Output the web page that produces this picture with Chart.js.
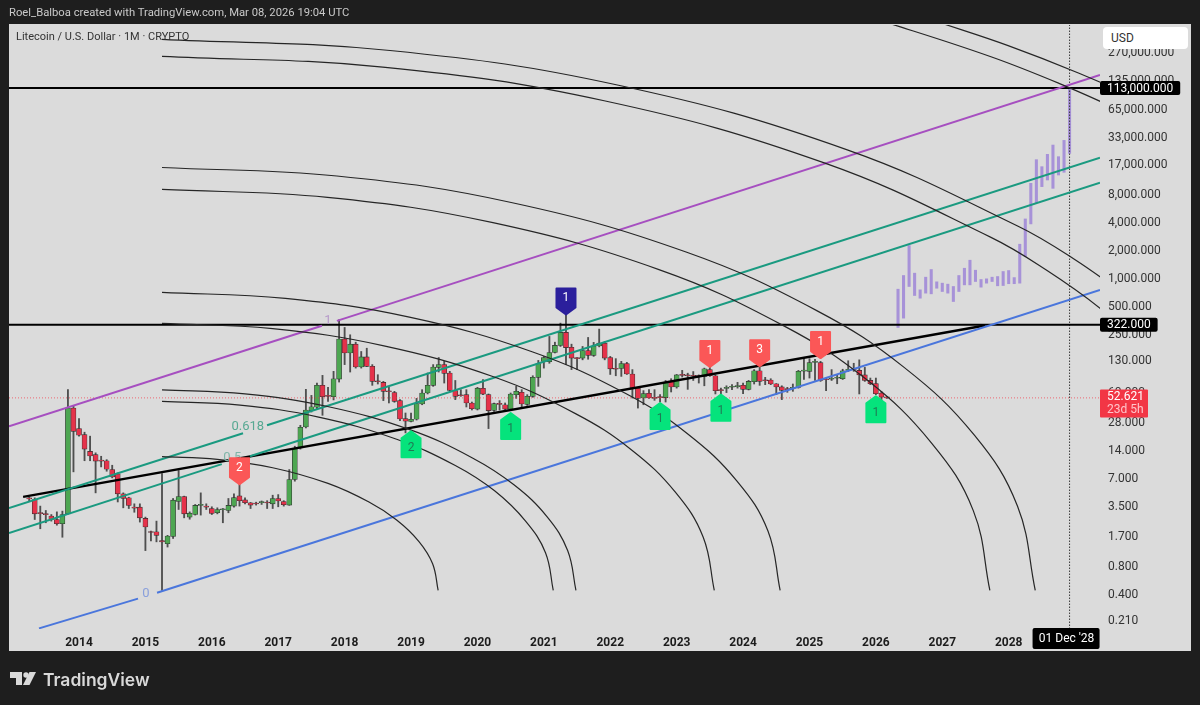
<!DOCTYPE html>
<html>
<head>
<meta charset="utf-8">
<title>Litecoin / U.S. Dollar</title>
<script src="https://cdn.jsdelivr.net/npm/chart.js@4"></script>
<style>
  html, body { margin: 0; padding: 0; background: #1e1e1e; }
  #wrap { position: relative; width: 1200px; height: 705px; overflow: hidden; }
  #chart { position: absolute; left: 0; top: 0; }
  .txt { position: absolute; white-space: nowrap; font-family: Roboto, sans-serif; }
  #credit { left: 9px; top: 6px; font-size: 11.25px; color: #c9c9c9; }
  #symbol { left: 16px; top: 30px; font-size: 11px; color: #333; }
  #currency { left: 1103px; top: 27px; width: 77px; height: 22px; line-height: 22px; padding-left: 8px; background: #fff; border-radius: 4px; font-size: 12px; color: #333; }
  #brand { left: 43px; top: 669px; font-family: Inter, sans-serif; font-size: 17.5px; font-weight: 600; color: #d9d9d9; }
  #logo { position: absolute; left: 10px; top: 671px; }
</style>
</head>
<body>
<div id="wrap">
  <canvas id="chart" width="1200" height="705"></canvas>
  <div class="txt" id="credit">Roel_Balboa created with TradingView.com, Mar 08, 2026 19:04 UTC</div>
  <div class="txt" id="symbol">Litecoin / U.S. Dollar · 1M · CRYPTO</div>
  <div class="txt" id="currency">USD</div>
  <svg id="logo" width="26" height="16" viewBox="0 0 26 16">
    <path d="M0 1h12v13H6V7H0z" fill="#d9d9d9"/>
    <circle cx="16" cy="4" r="2.7" fill="#d9d9d9"/>
    <path d="M19.5 1H26l-6.5 13H13z" fill="#d9d9d9"/>
  </svg>
  <div class="txt" id="brand">TradingView</div>
</div>
<script>
// monthly candles, first one is Apr 2013, month 0 = Jan 2014
const firstMonth = -9;
const opens = [
  4.36,4.25,3.02,2.95,2.82,2.59,2.33,2.98,40.9,
  24.6,21.2,14,12.9,11.2,11.1,8.92,8.02,4.89,4.43,3.49,3.52,
  2.66,1.91,1.91,1.54,1.42,1.7,4.05,4.58,2.75,2.93,3.68,3.58,
  3.4,3.06,3.3,3.24,3.61,4.65,4.21,3.92,3.84,3.93,3.94,3.82,
  4.36,4.05,3.7,6.97,15.2,25.6,38.4,41.7,71.8,55.6,54.2,83.9,
  226,160,199,113,145,115,80,77.3,62.5,60,49.2,31.5,29.3,31,
  45.2,59.4,71.8,112,120,97.4,62.9,56.6,57,46.4,39.9,66.7,57,
  38.7,45.6,44.4,39.9,57,60.4,44.8,54.7,87.5,130,129,162,193,
  266,184,141,141,170,151,190,204,143,109,109,123,95,67,52.5,
  58.9,53,53.8,53,78.6,69,94,92.5,91.5,90,89.6,106,91,63.8,
  66.5,68.5,69.5,71.8,65,78.6,103,81.5,82,74.7,69,65.3,66.5,
  68.3,102,101.5,127,126,83.5,83.5,85.5,84.6,104,106.5,104,93,
  81.2,75,59.4,53.3
];
const highs = [
  4.5,4.43,3.61,3.24,2.93,3.13,3.19,64.5,42.7,
  31.5,22.5,20.4,13.5,12.4,11.4,9.93,8.22,5.01,4.5,3.82,3.82,
  2.75,1.94,2.49,8.08,1.75,4.36,8.71,4.62,3.13,3.76,5.01,3.82,
  3.55,3.46,3.4,4.36,4.89,6.42,4.43,3.95,3.98,4.1,4.13,4.73,
  4.8,4.13,8.92,15.9,26.7,65,56,76,91.9,68.3,101.5,364,
  301,251,209,166,180,120,93.4,79.2,68.3,61.9,50.4,36.2,36.2,52,
  64.5,97.4,120,143,130,101.5,81,64.5,64.5,47.5,68.3,83,58,
  46.4,49.2,46.4,59.4,70,64.5,57,91,133,147,241,209,335,
  412,199,143,188,235,208,289,213,147,139,130,127,106,68.3,63,
  64.5,64.5,57,81,84.6,94,104,97,101,93,110,135,93,67,
  71,73,77.3,76,81.2,106,115,87.5,84.6,75,71,68.3,74.2,
  104,143,139,137,130,86,106,93,107,132,124,135,112,
  86,86,61.9,54.2
];
const lows = [
  4.08,2.59,2.06,2.39,2.49,2.25,1.67,2.95,8.43,
  20.4,11.1,11.1,5.01,9.53,8.56,7.26,4,3.46,3.4,3.1,2.43,
  1.2,1.52,1.49,0.448,1.31,1.62,3.32,2.7,2.61,2.89,2.89,3.32,
  2.93,2.98,2.39,3.06,3.52,3.61,3.82,3.4,3.7,3.76,3.4,3.4,
  3.55,3.61,3.68,6.69,14.8,25,37.1,40.3,34.2,48.3,50,77.9,
  120,99.8,110,110,114,71.8,74.2,49.2,46.4,47.2,30,22.1,29,30.4,
  44.4,58,70,99.8,76,61.9,50.4,54.7,42,39,39,57,24.6,
  37.7,39,39,39,52,40.3,43.7,53.4,70,110,124,160,188,
  120,106,106,135,137,147,186,135,94,91,89.6,94,52.4,40.9,44.4,
  52,49.5,47.5,47.5,60.9,67,88.2,65,81,76,71,89.6,58,58,
  60,64.5,67,58.4,64,74.2,71.8,73,73,57,50.4,60.4,61.9,
  67,83,86,81,79.2,62.9,81,74.7,83,101.5,101.5,58,79.2,
  73,57,45.2,52
];
const closes = [
  4.32,2.98,3,2.92,2.59,2.33,2.93,40.9,23,
  20.9,14.8,12.5,11,11,9,7.44,4.89,4.36,3.67,3.44,2.7,
  2.15,1.88,1.75,1.49,1.72,4.18,4.58,2.98,3.03,3.67,3.72,3.52,
  3.01,3.32,3.34,3.67,4.45,4.13,3.92,3.7,3.8,3.97,3.9,4.36,
  4.1,3.73,6.97,15.2,25.4,39,42.3,71.8,54.2,54.6,84.6,226,
  160,199,113,145,115,79.2,78.5,61.9,61.3,48.3,31.2,29.5,31,45.6,
  59.4,71.8,113,120,96.6,63.4,54.7,55.5,46.4,40.3,67,57.8,38.4,
  45.6,44.8,39.9,58,61.9,45.2,54.7,87.5,123,143,162,193,266,
  183,141,139,170,151,190,204,141,108,107,123,95,67,52,58.4,
  52.5,52,53,77.9,68.9,93,92,91,90,89,108,91,62.9,63,
  67.5,69.5,70.5,65,79.2,103,79.2,80.5,74.2,69,63.4,64.5,67.5,
  101.5,104,126,129,81,82.5,84.5,86.5,103,106,105.5,93,81,
  74.7,58.4,53.7,52.621
];

// projected (pasted) price bars, purple, 2026-05 to 2028-12
const projFirstMonth = 148;
const projHighs = [776,1089,2286,1154,764,1045,1263,931,901,879,830,1089,1304,1590,1242,987,1003,1045,1062,1202,1232,1035,2363,4419,10680,19170,16120,21870,27530,20650,30890,113000];
const projLows = [301,379,830,664,621,704,692,795,733,704,572,733,864,864,939,816,901,939,844,850,889,889,901,1742,3908,6618,9835,11590,9427,13120,14020,22410];

// axes
const priceTicks = [270000,135000,65000,33000,17000,8000,4000,2000,1000,500,250,130,60,28,14,7,3.5,1.7,0.8,0.4,0.21];
const yearTicks = [0,12,24,36,48,60,72,84,96,108,120,132,144,156,168];
const yearLabels = ["2014","2015","2016","2017","2018","2019","2020","2021","2022","2023","2024","2025","2026","2027","2028"];

// fib channel lines, split around the level captions
const fibOneX = [-12.65,43.9], fibOneY = [26.06,314];
const fibOnebX = [46.6,184.5], fibOnebY = [354.5,156000];
const fib618X = [-12.65,29.64], fib618Y = [3.43,21.9];
const fib618bX = [33.98,184.5], fib618bY = [26.7,20140];
const fib5X = [-12.65,25.8], fib5Y = [1.85,10.2];
const fib5bX = [30.9,184.5], fib5bY = [12.4,10840];
const fibZeroX = [-7.23,10.66], fibZeroY = [0.175,0.365];
const fibZerobX = [14.1,184.5], fibZerobY = [0.423,760];
const trendX = [-10.1,163.7], trendY = [4.54,316];
const levels = [113000,322];
const lastPrice = 52.621;
const lastCountdown = "23d 5h";
const crossMonth = 179;
const crossLabel = "01 Dec '28";

// speed arcs: [months], [prices]
const arcs = [
  [[15,25,35,45,52.4,57.4,61.4,63.9,64.9],[12.27,11.5,9.33,6.33,3.99,2.56,1.51,0.866,0.448]],
  [[15,29.1,43.3,57.4,68,75.1,80.7,84.3,85.7],[48.3,44,32.7,18.9,9.87,5.27,2.49,1.14,0.448]],
  [[15,30,44.9,59.9,71.1,78.6,84.6,88.3,89.8],[64.1,58.1,42.5,23.8,11.9,6.12,2.77,1.2,0.448]],
  [[15,35,54.9,74.9,89.8,99.8,107.8,112.8,114.8],[333,292,192,88.7,35.4,14.6,5.07,1.67,0.448]],
  [[15,37.3,59.7,82,98.8,109.9,118.9,124.5,126.7],[716,618,388,164,58.7,21.8,6.71,1.95,0.448]],
  [[15,44.9,74.8,104.8,127.2,142.2,154.1,161.6,164.6],[9183,7534,4027,1262,317,83.8,17.1,3.23,0.448]],
  [[15,46.6,78.1,109.7,133.4,149.1,161.8,169.6,172.8],[15800,12800,6640,1950,454,112,20.9,3.6,0.448]],
  [[15,54.9,94.9,134.8,164.8,174.8,184.7,194.7],[247000,190000,82400,17600,2800,1247,475,143]],
  [[15,56.2,97.5,138.7,169.7,180,190.3],[377000,286000,121000,24600,3690,1607,593]],
  [[139.8,147,164.8,177.2,189.7],[728000,546000,245000,126000,59200]],
  [[155.1,167.9,180.6,193.4],[583000,323000,164000,75900]]
];

// signal pins: tip sits on the candle
const pinMonths = [29,88,60,78,105,116,144,114,123,134];
const pinPrices = [6.21,415,23,36.2,46.4,57,54.7,113,115,141];
const pinTexts = ["2","1","2","1","1","1","1","1","3","1"];
const pinKinds = ["sell","top","buy","buy","buy","buy","buy","sell","sell","sell"];

// level captions on the fib channel
const fibTexts = ["1","0.618","0.5","0"];
const fibTextMonths = [45,30.5,27.7,12.1];
const fibTextPrices = [354,26,12,0.41];
const fibTextColors = ["#b79ac9","#57a892","#7fb5a8","#8aa0dc"];

const GREEN = "#4da651", RED = "#e5324a", WICK = "#4f4f4f", EDGE = "#2f2f2f";
const FONT = "Roboto, sans-serif";

const points = (xs, ys) => xs.map((x, i) => ({ x, y: ys[i] }));
const fmtPrice = (v) => Number(v).toLocaleString("en-US", { minimumFractionDigits: 3, maximumFractionDigits: 3 });

function lineSet(xs, ys, color, width, extra = {}) {
  return Object.assign({
    type: "line", data: points(xs, ys), borderColor: color, borderWidth: width,
    pointRadius: 0, fill: false, order: 1,
  }, extra);
}

function roundedRect(ctx, x, y, w, h, r, color) {
  ctx.fillStyle = color;
  ctx.beginPath();
  ctx.roundRect(x, y, w, h, r);
  ctx.fill();
}

const panel = {
  id: "panel",
  beforeDraw(chart) {
    const ctx = chart.ctx;
    ctx.fillStyle = "#dbdbdb";
    ctx.fillRect(9, 24, 1182, 627);
  },
};

const overlay = {
  id: "overlay",
  afterDatasetsDraw(chart) {
    const { ctx, scales: { x, y } } = chart;
    ctx.save();
    ctx.textAlign = "center";
    ctx.textBaseline = "middle";

    fibTexts.forEach((t, i) => {
      ctx.font = `13px ${FONT}`;
      ctx.fillStyle = fibTextColors[i];
      ctx.fillText(t, x.getPixelForValue(fibTextMonths[i]), y.getPixelForValue(fibTextPrices[i]));
    });

    pinMonths.forEach((m, i) => {
      const px = x.getPixelForValue(m);
      const tip = y.getPixelForValue(pinPrices[i]);
      const kind = pinKinds[i];
      const up = kind === "buy";
      const color = kind === "buy" ? "#05e37c" : kind === "top" ? "#2b1f9c" : "#fb5757";
      const dir = up ? 1 : -1;
      const w = 19, neck = 7, body = 19;
      ctx.fillStyle = color;
      ctx.beginPath();
      ctx.moveTo(px, tip);
      ctx.lineTo(px + w / 2, tip + dir * neck);
      ctx.lineTo(px + w / 2, tip + dir * (neck + body));
      ctx.lineTo(px - w / 2, tip + dir * (neck + body));
      ctx.lineTo(px - w / 2, tip + dir * neck);
      ctx.closePath();
      ctx.lineJoin = "round";
      ctx.lineWidth = 2;
      ctx.strokeStyle = color;
      ctx.stroke();
      ctx.fill();
      ctx.font = `12px ${FONT}`;
      ctx.fillStyle = up ? "#1f7a55" : "#ffffff";
      ctx.fillText(pinTexts[i], px, tip + dir * (neck + body / 2));
    });
    ctx.restore();
  },
  afterDraw(chart) {
    const { ctx, scales: { x, y } } = chart;
    ctx.save();
    ctx.textBaseline = "middle";
    ctx.font = `12px ${FONT}`;

    levels.forEach((v) => {
      const py = y.getPixelForValue(v);
      const label = fmtPrice(v);
      const w = ctx.measureText(label).width + 14;
      roundedRect(ctx, 1100, py - 7, w, 14, 2, "#000000");
      ctx.fillStyle = "#ffffff";
      ctx.textAlign = "left";
      ctx.fillText(label, 1107, py + 0.5);
    });

    const ly = y.getPixelForValue(lastPrice);
    roundedRect(ctx, 1100, ly - 8.5, 48, 28, 1, "#f23645");
    ctx.fillStyle = "#ffffff";
    ctx.fillText(fmtPrice(lastPrice), 1107, ly - 1);
    ctx.fillStyle = "#ffc4ca";
    ctx.fillText(lastCountdown, 1107, ly + 12);

    const cx = x.getPixelForValue(crossMonth);
    roundedRect(ctx, cx - 37, 628, 67, 21, 2, "#000000");
    ctx.fillStyle = "#ffffff";
    ctx.textAlign = "center";
    ctx.fillText(crossLabel, cx - 3, 639);
    ctx.restore();
  },
};

const datasets = [
  { label: "wicks", type: "bar", data: lows.map((l, i) => ({ x: firstMonth + i, y: [l, highs[i]] })),
    backgroundColor: WICK, barThickness: 1.2, order: 4, grouped: false },
  { label: "bodies", type: "bar", data: opens.map((o, i) => ({ x: firstMonth + i, y: [o, closes[i]] })),
    backgroundColor: opens.map((o, i) => (closes[i] >= o ? GREEN : RED)),
    borderColor: EDGE, borderWidth: 0.6, borderSkipped: false, barThickness: 5, minBarLength: 1, order: 3, grouped: false },
  { label: "projection", type: "bar", data: projHighs.map((h, i) => ({ x: projFirstMonth + i, y: [projLows[i], h] })),
    backgroundColor: "#a792d8", barThickness: 2.4, order: 2, grouped: false },
];

arcs.forEach(([xs, ys]) => {
  datasets.push(lineSet(xs, ys, "#262626", 1.2, { tension: 0.4 }));
});

datasets.push(lineSet(fibOneX, fibOneY, "#a64fc0", 2));
datasets.push(lineSet(fibOnebX, fibOnebY, "#a64fc0", 2));
datasets.push(lineSet(fib618X, fib618Y, "#1a9a80", 2));
datasets.push(lineSet(fib618bX, fib618bY, "#1a9a80", 2));
datasets.push(lineSet(fib5X, fib5Y, "#1a9a80", 2));
datasets.push(lineSet(fib5bX, fib5bY, "#1a9a80", 2));
datasets.push(lineSet(fibZeroX, fibZeroY, "#4a76dc", 2));
datasets.push(lineSet(fibZerobX, fibZerobY, "#4a76dc", 2));
datasets.push(lineSet(trendX, trendY, "#000000", 2.4));
levels.forEach((v) => datasets.push(lineSet([-12.65, 184.5], [v, v], "#000000", 2)));
datasets.push(lineSet([-12.65, 184.5], [lastPrice, lastPrice], "rgba(242,54,69,0.7)", 1, { borderDash: [1, 2] }));
datasets.push(lineSet([crossMonth, crossMonth], [0.1722, 538000], "#3a3a3a", 1, { borderDash: [1.5, 1.5] }));

new Chart(document.getElementById("chart"), {
  type: "bar",
  data: { datasets },
  plugins: [panel, overlay],
  options: {
    responsive: false,
    animation: false,
    layout: { padding: { left: 9, top: 25, right: 9, bottom: 53 } },
    plugins: { legend: { display: false }, tooltip: { enabled: false }, title: { display: false } },
    scales: {
      x: {
        type: "linear", min: -12.65, max: 184.5, offset: false,
        grid: { display: false, drawTicks: false, offset: false }, border: { display: false },
        afterBuildTicks: (axis) => { axis.ticks = yearTicks.map((value) => ({ value })); },
        afterFit: (axis) => { axis.height = 23; },
        ticks: {
          autoSkip: false, maxRotation: 0, padding: 7, color: "#1c1c1c",
          font: { family: FONT, size: 12, weight: "bold" },
          callback: (v, i) => yearLabels[i],
        },
      },
      y: {
        type: "logarithmic", position: "right", min: 0.1722, max: 538000,
        grid: { display: false, drawTicks: false }, border: { display: false },
        afterBuildTicks: (axis) => { axis.ticks = priceTicks.map((value) => ({ value })); },
        afterFit: (axis) => { axis.width = 91; },
        ticks: {
          autoSkip: false, padding: 8, crossAlign: "near", color: "#333",
          font: { family: FONT, size: 12 },
          callback: (v) => fmtPrice(v),
        },
      },
    },
  },
});
</script>
</body>
</html>
